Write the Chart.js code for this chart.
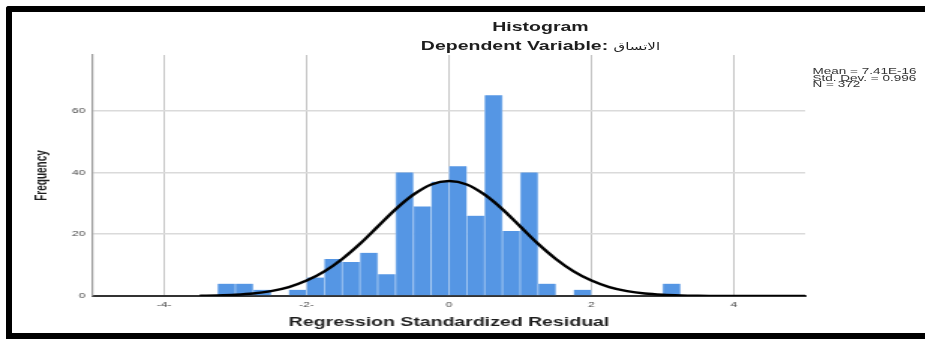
<!DOCTYPE html>
<html><head><meta charset="utf-8">
<script src="https://cdn.jsdelivr.net/npm/chart.js@4"></script>
<style>
html,body{margin:0;padding:0;background:#fff;width:925px;height:339px;overflow:hidden;}
#wrap{position:absolute;left:0;top:0;width:617px;height:339px;transform:scaleX(1.4992);transform-origin:0 0;}
#c{position:absolute;left:0;top:0;}
.t{position:absolute;font-family:"Liberation Sans",Arial,"DejaVu Sans",sans-serif;color:#1e1e1e;white-space:nowrap;}
#frame{position:absolute;left:6px;top:6px;width:1000px;height:321px;border-top:6px solid #000;border-left:6px solid #000;border-bottom:6px solid #000;border-top-left-radius:3px;}
</style></head>
<body>
<div id="wrap">
<canvas id="c" width="617" height="339" style="width:617px;height:339px"></canvas>
<div class="t" style="left:0;width:721px;top:19px;line-height:16px;font-size:13px;font-weight:bold;text-align:center;">Histogram</div>
<div class="t" style="left:0;width:721px;top:38px;line-height:16px;font-size:13px;font-weight:bold;text-align:center;">Dependent Variable: <span style="font-family:'DejaVu Sans',sans-serif;font-size:10px;font-weight:normal;">الاتساق</span></div>
<div class="t" style="left:542px;top:68px;font-size:9px;line-height:6.7px;color:#333;">Mean = 7.41E-16<br>Std. Dev. = 0.996<br>N = 372</div>
</div>
<div id="frame"></div>
<script>
// Histogram bins (bin centres, width 0.25) and frequencies
const binCenters = [-3.125,-2.875,-2.625,-2.375,-2.125,-1.875,-1.625,-1.375,-1.125,-0.875,-0.625,-0.375,-0.125,0.125,0.375,0.625,0.875,1.125,1.375,1.625,1.875,2.125,2.375,2.625,2.875,3.125];
const frequencies = [4,4,2,0,2,6,12,11,14,7,40,29,37,42,26,65,21,40,4,0,2,0,0,0,0,4];
// Normal curve
const curveX = [-3.5,-3.25,-3,-2.75,-2.5,-2.25,-2,-1.75,-1.5,-1.25,-1,-0.75,-0.5,-0.25,0,0.25,0.5,0.75,1,1.25,1.5,1.75,2,2.25,2.5,2.75,3,3.25,3.5,4,4.5,5];
const curveY = [0.1,0.2,0.4,0.8,1.6,2.9,5.0,8.0,12.0,16.9,22.5,28.1,32.8,36.1,37.2,36.1,32.8,28.1,22.5,16.9,12.0,8.0,5.0,2.9,1.6,0.8,0.4,0.2,0.1,0.0,0.0,0.0];
// Tick labels
const xTickValues = [-4,-2,0,2,4];
const xTickLabels = ['-4-','-2-','0','2','4'];
const yTickValues = [0,20,40,60];
const yTickLabels = ['0','20','40','60'];

const FONT = '"Liberation Sans", Arial, "DejaVu Sans", sans-serif';

new Chart(document.getElementById('c'), {
  type: 'bar',
  data: {
    datasets: [
      {
        type: 'line',
        order: 0,
        data: curveX.map((x, i) => ({x: x, y: curveY[i]})),
        borderColor: '#000',
        borderWidth: 2.4,
        pointRadius: 0,
        cubicInterpolationMode: 'monotone',
        fill: false
      },
      {
        type: 'bar',
        order: 1,
        data: binCenters.map((x, i) => ({x: x, y: frequencies[i]})),
        backgroundColor: '#5596e4',
        borderColor: '#b4d0f2',
        borderWidth: {left: 0.7, right: 0.7, top: 0, bottom: 0},
        borderSkipped: false,
        barPercentage: 1,
        categoryPercentage: 1
      }
    ]
  },
  options: {
    responsive: false,
    animation: false,
    devicePixelRatio: 1,
    layout: {padding: {top: 55, right: 80, left: 0, bottom: 0}},
    plugins: {legend: {display: false}, tooltip: {enabled: false}, title: {display: false}},
    scales: {
      x: {
        type: 'linear',
        min: -5, max: 5,
        offset: false,
        afterFit: s => { s.height = 43; },
        afterBuildTicks: s => { s.ticks = xTickValues.map(v => ({value: v})); },
        ticks: {
          padding: 4,
          font: {family: FONT, size: 8},
          color: '#444',
          maxRotation: 0,
          autoSkip: false,
          callback: (v) => xTickLabels[xTickValues.indexOf(v)]
        },
        grid: {color: '#c6c6c6', lineWidth: 1, drawTicks: false, offset: false},
        border: {color: '#333', width: 2},
        title: {
          display: true,
          text: 'Regression Standardized Residual',
          font: {family: FONT, size: 13, weight: 'bold'},
          color: '#1e1e1e',
          padding: {top: 0, bottom: 9.2}
        }
      },
      y: {
        min: 0, max: 78,
        afterFit: s => { s.width = 62; },
        afterBuildTicks: s => { s.ticks = yTickValues.map(v => ({value: v})); },
        ticks: {
          padding: 5,
          font: {family: FONT, size: 8},
          color: '#444',
          autoSkip: false,
          callback: (v) => yTickLabels[yTickValues.indexOf(v)]
        },
        grid: {
          color: ctx => (ctx.tick && ctx.tick.value === 0) ? 'rgba(0,0,0,0)' : '#dadada',
          lineWidth: 1.5,
          drawTicks: false
        },
        border: {color: '#9a9a9a', width: 1.2},
        title: {
          display: true,
          text: 'Frequency',
          font: {family: FONT, size: 10, weight: 'bold'},
          color: '#1e1e1e',
          padding: {top: 22.5, bottom: 0}
        }
      }
    }
  }
});
</script>
</body></html>
